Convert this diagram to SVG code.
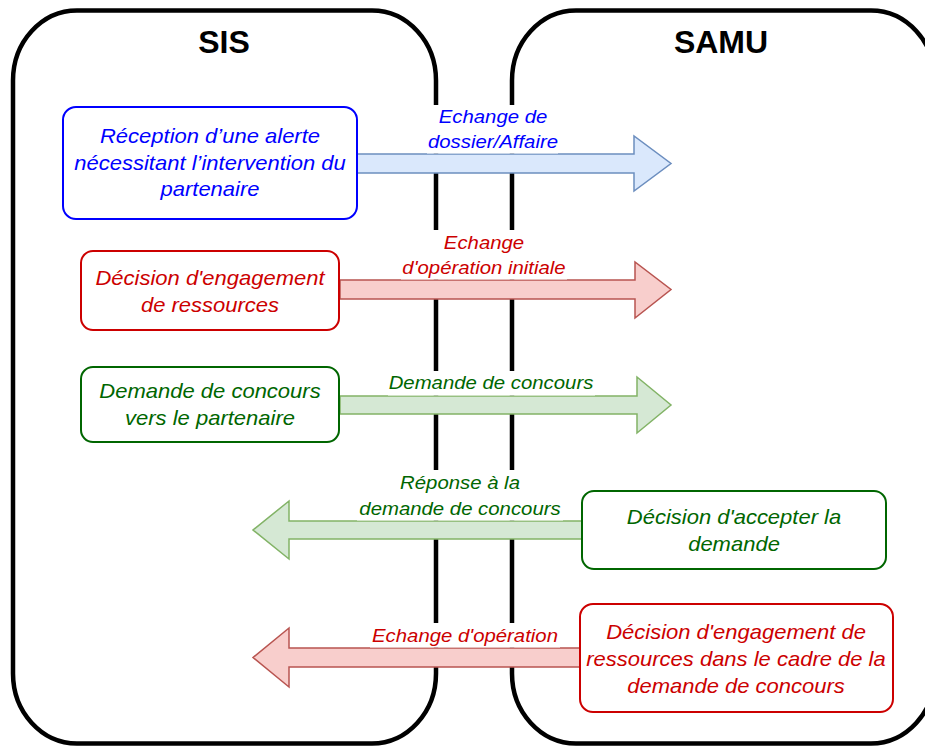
<svg xmlns="http://www.w3.org/2000/svg" width="925" height="746" viewBox="0 0 925 746">
<defs>
<style>
.lane{fill:none;stroke:#000;stroke-width:4.5}
.title{font-family:"Liberation Sans",Arial,sans-serif;font-weight:bold;font-size:32px;text-anchor:middle;fill:#000}
.t{font-family:"Liberation Sans",Arial,sans-serif;font-style:italic;font-size:20px;text-anchor:middle}
.lbl{font-family:"Liberation Sans",Arial,sans-serif;font-style:italic;font-size:18.5px;text-anchor:middle}
.box{fill:#fff;stroke-width:2}
.bg{fill:#fff}
.blue{fill:#0000FF}
.red{fill:#CC0000}
.green{fill:#006600}
.aBlue{fill:#dae8fc;stroke:#6c8ebf;stroke-width:1.5}
.aRed{fill:#f8cecc;stroke:#b85450;stroke-width:1.5}
.aGreen{fill:#d5e8d4;stroke:#82b366;stroke-width:1.5}
</style>
</defs>
<rect width="925" height="746" fill="#fff"/>
<g id="lane-sis">
<rect class="lane" x="13" y="10.5" width="423" height="733" rx="64" ry="70"/>
<text class="title" x="224" y="53">SIS</text>
</g>
<g id="lane-samu">
<rect class="lane" x="512" y="10.5" width="423" height="733" rx="64" ry="70"/>
<text class="title" x="721" y="53">SAMU</text>
</g>
<g id="connectors">
<g id="arrow1">
<path class="aBlue" d="M357,154 H634 V136 L671,163.5 L634,191 V173 H357 Z"/>
<rect class="bg" x="427" y="105" width="131" height="48.5"/>
<g transform="matrix(1.1,0,0,1,493,0)" class="blue"><text class="lbl" x="0" y="123">Echange de</text><text class="lbl" x="0" y="148">dossier/Affaire</text></g>
</g>
<g id="arrow2">
<path class="aRed" d="M340,280 H635 V262 L671,289.5 L635,318 V299 H340 Z"/>
<rect class="bg" x="401" y="230" width="166" height="49.5"/>
<g transform="matrix(1.1,0,0,1,484,0)" class="red"><text class="lbl" x="0" y="249">Echange</text><text class="lbl" x="0" y="274">d'opération initiale</text></g>
</g>
<g id="arrow3">
<path class="aGreen" d="M340,396 H637 V377 L671,405 L637,433 V414 H340 Z"/>
<rect class="bg" x="388" y="371" width="207" height="24.5"/>
<g transform="matrix(1.1,0,0,1,491,0)" class="green"><text class="lbl" x="0" y="389">Demande de concours</text></g>
</g>
<g id="arrow4">
<path class="aGreen" d="M582,521 H289 V501 L253,530 L289,559 V539 H582 Z"/>
<rect class="bg" x="357" y="470" width="206" height="50.5"/>
<g transform="matrix(1.1,0,0,1,460,0)" class="green"><text class="lbl" x="0" y="489">Réponse à la</text><text class="lbl" x="0" y="515">demande de concours</text></g>
</g>
<g id="arrow5">
<path class="aRed" d="M580,648 H289 V628 L253,657.5 L289,687 V667 H580 Z"/>
<rect class="bg" x="370" y="623" width="190" height="24.5"/>
<g transform="matrix(1.1,0,0,1,465,0)" class="red"><text class="lbl" x="0" y="642">Echange d'opération</text></g>
</g>
</g>
<g id="node-reception">
<rect class="box" x="63" y="107" width="294" height="112" rx="13" stroke="#0000FF"/>
<g transform="matrix(1.1,0,0,1,210,0)" class="blue"><text class="t" x="0" y="143">Réception d’une alerte</text><text class="t" x="0" y="170">nécessitant l’intervention du</text><text class="t" x="0" y="196">partenaire</text></g>
</g>
<g id="node-decision-engagement">
<rect class="box" x="81" y="251" width="258" height="79" rx="12" stroke="#CC0000"/>
<g transform="matrix(1.1,0,0,1,210,0)" class="red"><text class="t" x="0" y="285">Décision d'engagement</text><text class="t" x="0" y="312">de ressources</text></g>
</g>
<g id="node-demande-concours">
<rect class="box" x="81" y="367" width="258" height="75" rx="12" stroke="#006600"/>
<g transform="matrix(1.1,0,0,1,210,0)" class="green"><text class="t" x="0" y="398">Demande de concours</text><text class="t" x="0" y="425">vers le partenaire</text></g>
</g>
<g id="node-decision-accepter">
<rect class="box" x="582" y="491" width="304" height="78" rx="12" stroke="#006600"/>
<g transform="matrix(1.1,0,0,1,734,0)" class="green"><text class="t" x="0" y="524">Décision d'accepter la</text><text class="t" x="0" y="551">demande</text></g>
</g>
<g id="node-decision-engagement-cadre">
<rect class="box" x="580" y="604" width="313" height="108" rx="13" stroke="#CC0000"/>
<g transform="matrix(1.1,0,0,1,736,0)" class="red"><text class="t" x="0" y="639">Décision d'engagement de</text><text class="t" x="0" y="666">ressources dans le cadre de la</text><text class="t" x="0" y="693">demande de concours</text></g>
</g>
</svg>
